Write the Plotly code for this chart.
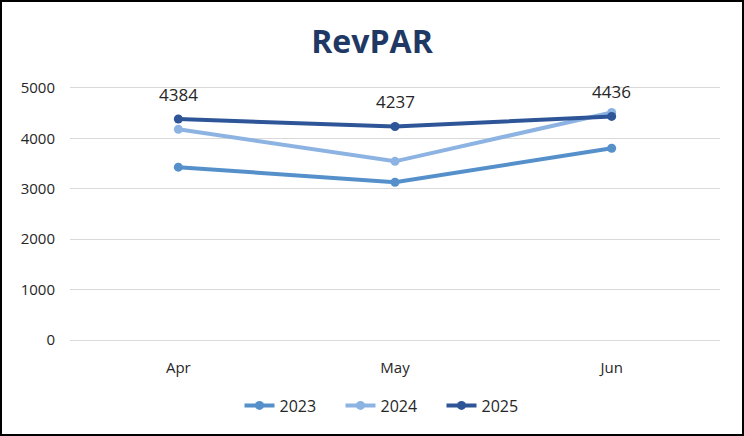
import plotly.graph_objects as go

months = ["Apr", "May", "Jun"]
rev_2023 = [3430, 3130, 3805]
rev_2024 = [4180, 3545, 4515]
rev_2025 = [4384, 4237, 4436]
y_ticks = [0, 1000, 2000, 3000, 4000, 5000]

W, H = 744, 436
ML, MR, MT, MB = 70, 24, 88, 96

fig = go.Figure()
series = [
    ("2023", rev_2023, "#5590CB", False),
    ("2024", rev_2024, "#8DB3E2", False),
    ("2025", rev_2025, "#2E5597", True),
]
for name, vals, color, labels in series:
    fig.add_trace(go.Scatter(
        x=months, y=vals, name=name, mode="lines+markers",
        line=dict(color=color, width=4),
        marker=dict(color=color, size=9),
        cliponaxis=False,
    ))
    if labels:
        for m, v in zip(months, vals):
            fig.add_annotation(x=m, y=v, text=str(v), showarrow=False,
                               yshift=25, yanchor="middle",
                               font=dict(size=17, color="#262626", family="Open Sans"))

pw = W - ML - MR
ph = H - MT - MB
fig.add_shape(type="rect", xref="paper", yref="paper",
              x0=-ML / pw + 1 / pw, x1=1 + MR / pw - 1 / pw,
              y0=-MB / ph + 1 / ph, y1=1 + MT / ph - 1 / ph,
              line=dict(color="black", width=2), layer="above")

fig.update_layout(
    width=W, height=H,
    margin=dict(l=ML, r=MR, t=MT, b=MB),
    paper_bgcolor="white", plot_bgcolor="white",
    font=dict(family="Open Sans", size=15, color="#404040"),
    title=dict(text="<b>RevPAR</b>", x=0.5, xanchor="center", y=0.905, yanchor="middle",
               font=dict(size=32, color="#1F3864", family="Open Sans")),
    xaxis=dict(range=[-0.5, 2.5], showgrid=False, zeroline=False,
               showline=True, linecolor="#D9D9D9", linewidth=1.3, mirror=True, ticks="",
               tickfont=dict(size=15, color="#262626"), ticklabelstandoff=14),
    yaxis=dict(range=[0, 5000], tickvals=y_ticks, showgrid=True, gridcolor="#D9D9D9",
               gridwidth=1.3, zeroline=False, showline=False, ticks="",
               tickfont=dict(size=15, color="#262626"), ticklabelstandoff=14),
    legend=dict(orientation="h", x=0.5 - 4 / pw, xanchor="center", y=-0.26, yanchor="middle",
                font=dict(size=16, color="#262626"), entrywidth=56, entrywidthmode="pixels"),
    showlegend=True,
)

fig.write_html("out.html", config={"displayModeBar": False},
               post_script="document.body.style.margin='0';")
